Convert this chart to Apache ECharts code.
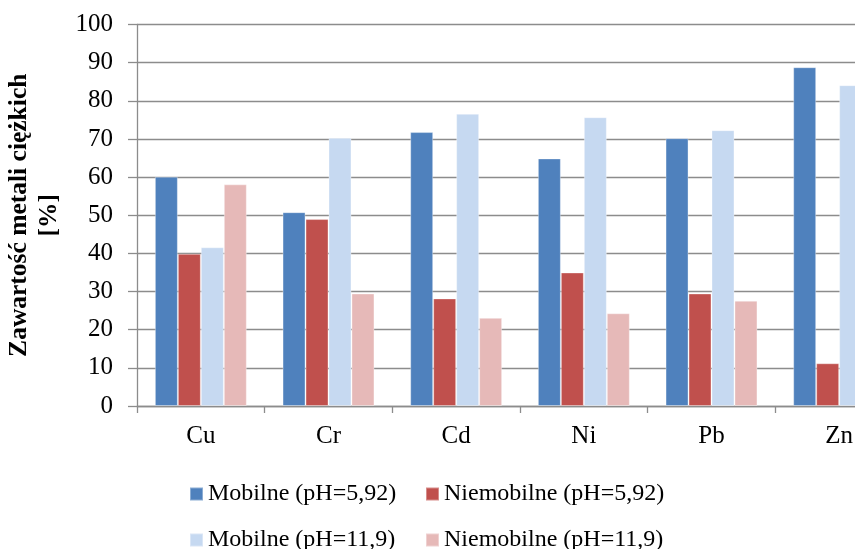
<!DOCTYPE html>
<html>
<head>
<meta charset="utf-8">
<script src="https://cdn.jsdelivr.net/npm/echarts@6/dist/echarts.min.js"></script>
<style>
html,body{margin:0;padding:0;overflow:hidden;width:855px;height:549px;background:#fff;}
#c{position:absolute;left:0;top:0;width:920px;height:549px;}
</style>
</head>
<body>
<div id="c"></div>
<script>
const categories = ['Cu', 'Cr', 'Cd', 'Ni', 'Pb', 'Zn'];
const mobile592 = [60.1, 50.8, 71.8, 64.9, 70.2, 88.8];
const niemobile592 = [39.9, 49.0, 28.2, 35.0, 29.5, 11.2];
const mobile119 = [41.6, 70.3, 76.6, 75.7, 72.3, 84.1];
const niemobile119 = [58.1, 29.5, 23.1, 24.3, 27.6, 15.9];
const seriesNames = ['Mobilne (pH=5,92)', 'Niemobilne (pH=5,92)', 'Mobilne (pH=11,9)', 'Niemobilne (pH=11,9)'];
const seriesColors = ['#4F81BD', '#C0504D', '#C6D9F1', '#E6B9B8'];
const yTicks = [0, 10, 20, 30, 40, 50, 60, 70, 80, 90, 100];

const FONT = "'Liberation Serif', 'Times New Roman', serif";
const chart = echarts.init(document.getElementById('c'), null, {renderer: 'canvas'});
const values = [mobile592, niemobile592, mobile119, niemobile119];

const legendPos = [[184, 477], [420, 477], [184, 523], [420, 523]];
const legends = seriesNames.map((n, i) => ({
  data: [n],
  left: legendPos[i][0],
  top: legendPos[i][1],
  orient: 'horizontal',
  icon: 'rect',
  itemWidth: 13,
  itemHeight: 13,
  selectedMode: false,
  textStyle: {fontFamily: FONT, fontSize: 24, color: '#000'}
}));

chart.setOption({
  animation: false,
  backgroundColor: '#fff',
  legend: legends,
  grid: {left: 137, top: 24.5, right: 17, bottom: 143, containLabel: false, outerBoundsMode: 'none'},
  xAxis: {
    type: 'category',
    data: categories,
    axisLine: {lineStyle: {color: '#8c8c8c', width: 1.3}},
    axisTick: {show: true, length: 7, lineStyle: {color: '#8c8c8c', width: 1.3}},
    axisLabel: {fontFamily: FONT, fontSize: 25, color: '#000', margin: 18}
  },
  yAxis: {
    type: 'value',
    min: yTicks[0],
    max: yTicks[yTicks.length - 1],
    interval: 10,
    name: 'Zawartość metali ciężkich\n[%]',
    nameLocation: 'middle',
    nameRotate: 90,
    nameGap: 63,
    nameTextStyle: {fontFamily: FONT, fontSize: 25.5, fontWeight: 'bold', color: '#000', lineHeight: 30},
    axisLine: {show: true, lineStyle: {color: '#8c8c8c', width: 1.3}},
    axisTick: {show: true, length: 9, lineStyle: {color: '#8c8c8c', width: 1.3}},
    axisLabel: {fontFamily: FONT, fontSize: 25, color: '#000', margin: 24},
    splitLine: {show: true, lineStyle: {color: '#8c8c8c', width: 1.3}}
  },
  series: values.map((v, i) => ({
    name: seriesNames[i],
    type: 'bar',
    data: v,
    barGap: '0%',
    barCategoryGap: '28%',
    itemStyle: {color: seriesColors[i], borderColor: 'rgba(255,255,255,0.35)', borderWidth: 1}
  }))
});
</script>
</body>
</html>
